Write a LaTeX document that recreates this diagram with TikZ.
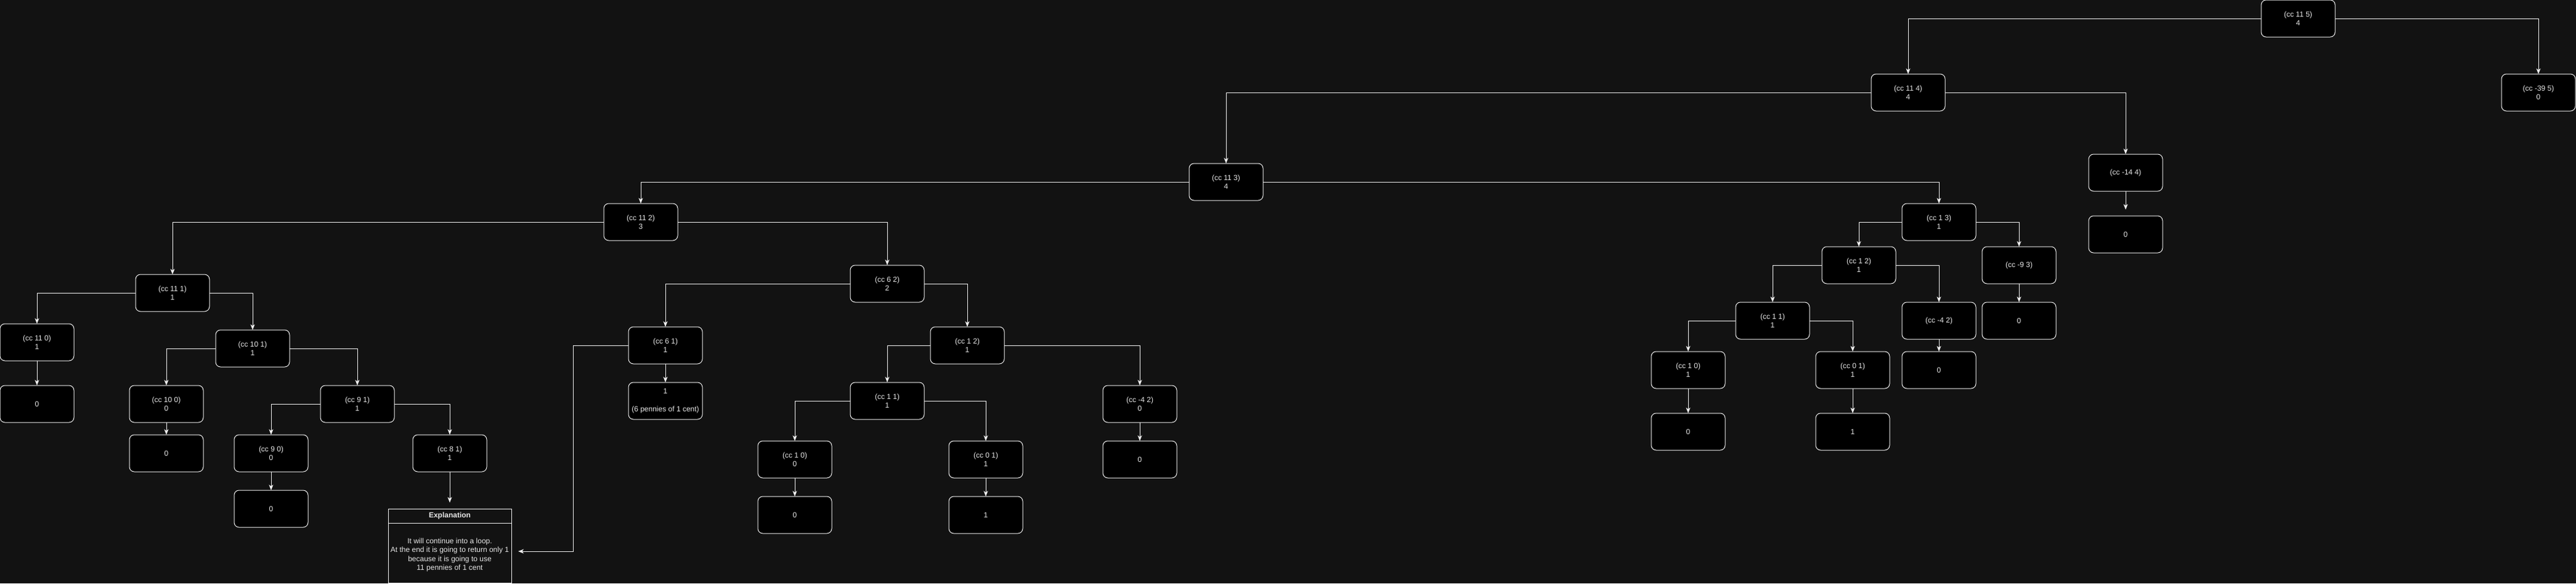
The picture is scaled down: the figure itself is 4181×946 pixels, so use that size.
\documentclass[tikz,border=0pt]{standalone}
\usepackage{fontspec}
\setmainfont{Liberation Sans}
\usetikzlibrary{arrows.meta}
\definecolor{bgc}{HTML}{121212}
\definecolor{edgec}{HTML}{F0F0F0}
\definecolor{txtc}{HTML}{E6E6E6}
\tikzset{
  cbox/.style={draw=edgec, fill=black, line width=1pt, rounded corners=8pt,
    minimum width=120pt, minimum height=60pt, inner sep=0pt, outer sep=0pt,
    align=center, text=txtc, font=\fontsize{12}{14.4}\selectfont},
  conn/.style={draw=edgec, line width=1pt, -{Stealth[length=9pt,width=7pt,inset=2.5pt]}},
  plain/.style={draw=edgec, line width=1pt},
  lbl/.style={align=center, text=txtc, inner sep=0pt, font=\fontsize{12}{14.4}\selectfont}
}
\begin{document}
\begin{tikzpicture}[x=1pt,y=-1pt]
\useasboundingbox (0,0) rectangle (4181,946);
\fill[bgc] (0,0) rectangle (4181,946);
% top levels
\node[cbox] (root) at (3730,30) {(cc 11 5)\\4};
\node[cbox] (m39) at (4120,150) {(cc -39 5)\\0};
\node[cbox] (a114) at (3097,150) {(cc 11 4)\\4};
\node[cbox] (m144) at (3450,280) {(cc -14 4)};
\node[cbox] (m144z) at (3450,380) {0};
\node[cbox] (a113) at (1990,295) {(cc 11 3)\\4};
% right subtree
\node[cbox] (r13) at (3147,360) {(cc 1 3)\\1};
\node[cbox] (m93) at (3277,430) {(cc -9 3)};
\node[cbox] (m93z) at (3277,520) {0};
\node[cbox] (r12) at (3017,430) {(cc 1 2)\\1};
\node[cbox] (rm42) at (3147,520) {(cc -4 2)};
\node[cbox] (rm42z) at (3147,600) {0};
\node[cbox] (r11) at (2877,520) {(cc 1 1)\\1};
\node[cbox] (r10) at (2740,600) {(cc 1 0)\\1};
\node[cbox] (r10z) at (2740,700) {0};
\node[cbox] (r01) at (3007,600) {(cc 0 1)\\1};
\node[cbox] (r01z) at (3007,700) {1};
% left subtree
\node[cbox] (a112) at (1040,360) {(cc 11 2)\\3};
\node[cbox] (a111) at (280,475) {(cc 11 1)\\1};
\node[cbox] (a110) at (60,555) {(cc 11 0)\\1};
\node[cbox] (a110z) at (60,655) {0};
\node[cbox] (a101) at (410,565) {(cc 10 1)\\1};
\node[cbox] (a100) at (270,655) {(cc 10 0)\\0};
\node[cbox] (a100z) at (270,735) {0};
\node[cbox] (a91) at (580,655) {(cc 9 1)\\1};
\node[cbox] (a90) at (440,735) {(cc 9 0)\\0};
\node[cbox] (a90z) at (440,825) {0};
\node[cbox] (a81) at (730,735) {(cc 8 1)\\1};
% middle subtree
\node[cbox] (b62) at (1440,460) {(cc 6 2)\\2};
\node[cbox] (b61) at (1080,560) {(cc 6 1)\\1};
\node[cbox] (b61z) at (1080,650) {1\\[14.4pt](6 pennies of 1 cent)};
\node[cbox] (b12) at (1570,560) {(cc 1 2)\\1};
\node[cbox] (b11) at (1440,650) {(cc 1 1)\\1};
\node[cbox] (b10) at (1290,745) {(cc 1 0)\\0};
\node[cbox] (b10z) at (1290,835) {0};
\node[cbox] (b01) at (1600,745) {(cc 0 1)\\1};
\node[cbox] (b01z) at (1600,835) {1};
\node[cbox] (bm42) at (1850,655) {(cc -4 2)\\0};
\node[cbox] (bm42z) at (1850,745) {0};
% explanation
\node[draw=edgec, line width=1pt, minimum width=200pt, minimum height=120pt, inner sep=0pt, outer sep=0pt] (expl) at (730,885) {};
\draw[plain] (630,848) -- (830,848);
\node[lbl, font=\fontsize{12}{14.4}\selectfont\bfseries] (explh) at (730,836.5) {Explanation};
\node[lbl] (explb) at (730,900) {It will continue into a loop.\\At the end it is going to return only 1\\because it is going to use\\11 pennies of 1 cent};
% free ends
\coordinate (e81) at (730,815);
\coordinate (e144) at (3450,340);
\coordinate (bend61) at (930,894);
\coordinate (eexpl) at (841,894);
% connectors
\draw[conn] (root.west) -| (a114.north);
\draw[conn] (root.east) -| (m39.north);
\draw[conn] (a114.west) -| (a113.north);
\draw[conn] (a114.east) -| (m144.north);
\draw[conn] (m144.south) -- (e144);
\draw[conn] (a113.west) -| (a112.north);
\draw[conn] (a113.east) -| (r13.north);
\draw[conn] (r13.west) -| (r12.north);
\draw[conn] (r13.east) -| (m93.north);
\draw[conn] (m93.south) -- (m93z.north);
\draw[conn] (r12.west) -| (r11.north);
\draw[conn] (r12.east) -| (rm42.north);
\draw[conn] (rm42.south) -- (rm42z.north);
\draw[conn] (r11.west) -| (r10.north);
\draw[conn] (r11.east) -| (r01.north);
\draw[conn] (r10.south) -- (r10z.north);
\draw[conn] (r01.south) -- (r01z.north);
\draw[conn] (a112.west) -| (a111.north);
\draw[conn] (a112.east) -| (b62.north);
\draw[conn] (a111.west) -| (a110.north);
\draw[conn] (a111.east) -| (a101.north);
\draw[conn] (a110.south) -- (a110z.north);
\draw[conn] (a101.west) -| (a100.north);
\draw[conn] (a101.east) -| (a91.north);
\draw[conn] (a100.south) -- (a100z.north);
\draw[conn] (a91.west) -| (a90.north);
\draw[conn] (a91.east) -| (a81.north);
\draw[conn] (a90.south) -- (a90z.north);
\draw[conn] (a81.south) -- (e81);
\draw[conn] (b62.west) -| (b61.north);
\draw[conn] (b62.east) -| (b12.north);
\draw[conn] (b61.south) -- (b61z.north);
\draw[conn] (b61.west) -| (bend61) -- (eexpl);
\draw[conn] (b12.west) -| (b11.north);
\draw[conn] (b12.east) -| (bm42.north);
\draw[conn] (bm42.south) -- (bm42z.north);
\draw[conn] (b11.west) -| (b10.north);
\draw[conn] (b11.east) -| (b01.north);
\draw[conn] (b10.south) -- (b10z.north);
\draw[conn] (b01.south) -- (b01z.north);
\end{tikzpicture}
\end{document}
